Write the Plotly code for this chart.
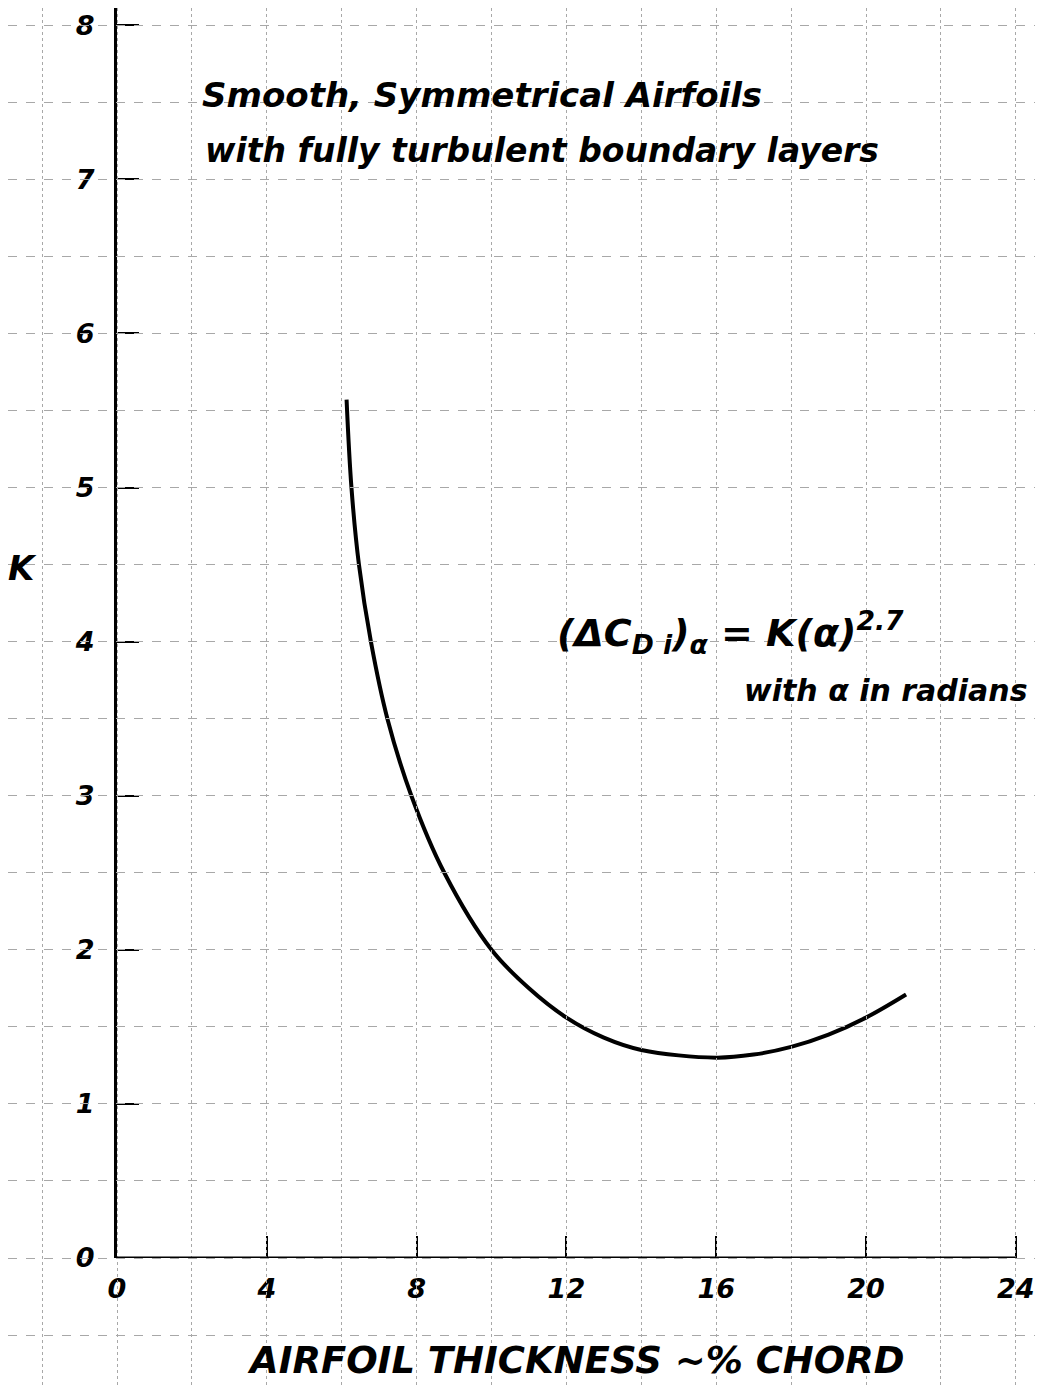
import plotly.graph_objects as go

# data
thickness = [6.13, 6.26, 6.46, 6.78, 7.22, 7.86, 8.74, 10.0, 11.0, 12.0, 13.0, 14.0, 16.0, 17.0, 18.0, 19.0, 20.0, 21.07]
k_values = [5.57, 5.00, 4.50, 4.00, 3.50, 3.00, 2.50, 2.00, 1.75, 1.56, 1.43, 1.35, 1.30, 1.32, 1.37, 1.45, 1.56, 1.71]

x_tick_vals = [0, 4, 8, 12, 16, 20, 24]
x_tick_text = ["0", "4", "8", "12", "16", "20", "24"]
y_tick_vals = [0, 1, 2, 3, 4, 5, 6, 7, 8]
y_tick_text = ["0", "1", "2", "3", "4", "5", "6", "7", "8"]

W, H = 1043, 1393               # target page size
OFF = 8                         # default page margin around the figure
FW, FH = W - 2 * OFF, H - 2 * OFF
X0_PX, Y0_PX = 117 - OFF, 1258 - OFF   # origin in figure pixels
PX_PER_X, PX_PER_Y = 37.45, 154.1

x_max = (FW - X0_PX) / PX_PER_X
y_max = Y0_PX / PX_PER_Y
x_min_full = -X0_PX / PX_PER_X
y_min_full = -(FH - Y0_PX) / PX_PER_Y


def px(xp):
    return (xp - OFF) / FW


def py(yp):
    return 1 - (yp - OFF) / FH


hand = dict(family="DejaVu Sans", color="black", style="italic", weight="bold")

fig = go.Figure()

# background graph-paper grid (full figure)
fig.add_trace(go.Scatter(x=[None], y=[None], xaxis="x2", yaxis="y2", showlegend=False))

fig.add_trace(go.Scatter(
    x=thickness, y=k_values, mode="lines",
    line=dict(color="black", width=4, shape="spline", smoothing=1.0),
    showlegend=False, hoverinfo="skip",
))

# x-axis line from 0 to last tick
fig.add_shape(type="line", xref="x", yref="y", x0=x_tick_vals[0], x1=x_tick_vals[-1],
              y0=0, y1=0, line=dict(color="black", width=3), layer="above")

fig.update_layout(
    width=FW, height=FH,
    margin=dict(l=0, r=0, t=0, b=0, autoexpand=False),
    paper_bgcolor="white",
    plot_bgcolor="rgba(0,0,0,0)",
    showlegend=False,
    xaxis=dict(
        domain=[X0_PX / FW, 1], range=[0, x_max], anchor="y", automargin=False,
        tickvals=x_tick_vals, ticktext=x_tick_text,
        ticks="inside", ticklen=22, tickwidth=2, tickcolor="black",
        showline=False, showgrid=False, zeroline=False,
        tickfont=dict(size=27, **hand), ticklabelstandoff=12,
    ),
    yaxis=dict(
        domain=[(FH - Y0_PX) / FH, 1], range=[0, y_max], anchor="x", automargin=False,
        tickvals=y_tick_vals, ticktext=y_tick_text,
        ticks="inside", ticklen=22, tickwidth=2, tickcolor="black",
        showline=True, linewidth=3, linecolor="black",
        showgrid=False, zeroline=False,
        tickfont=dict(size=27, **hand), ticklabelstandoff=14,
    ),
    xaxis2=dict(
        domain=[0, 1], range=[x_min_full, x_max], anchor="y2", automargin=False,
        showticklabels=False, ticks="", showgrid=True, gridcolor="#a8a8a8",
        griddash="dot", gridwidth=1, tick0=0, dtick=2, zeroline=False, showline=False,
    ),
    yaxis2=dict(
        domain=[0, 1], range=[y_min_full, y_max], anchor="x2", automargin=False,
        showticklabels=False, ticks="", showgrid=True, gridcolor="#a8a8a8",
        griddash="dash", gridwidth=1, tick0=0, dtick=0.5, zeroline=False, showline=False,
    ),
)

annots = [
    dict(text="Smooth, Symmetrical Airfoils", x=px(200), y=py(95), xanchor="left",
         font=dict(size=34, **hand)),
    dict(text="with fully turbulent boundary layers", x=px(203), y=py(150), xanchor="left",
         font=dict(size=33, **hand)),
    dict(text="(ΔC<sub>D i</sub>)<sub>α</sub> = K(α)<sup>2.7</sup>", x=px(730), y=py(632),
         xanchor="center", font=dict(size=38, **hand)),
    dict(text="with α in radians", x=px(1030), y=py(690), xanchor="right",
         font=dict(size=30, **hand)),
    dict(text="K", x=px(22), y=py(568), xanchor="center", font=dict(size=34, **hand)),
    dict(text="AIRFOIL THICKNESS ~% CHORD", x=px(575), y=py(1360), xanchor="center",
         font=dict(size=37, **hand)),
]
for a in annots:
    fig.add_annotation(xref="paper", yref="paper", yanchor="middle", showarrow=False, **a)

fig.write_html("out.html")
